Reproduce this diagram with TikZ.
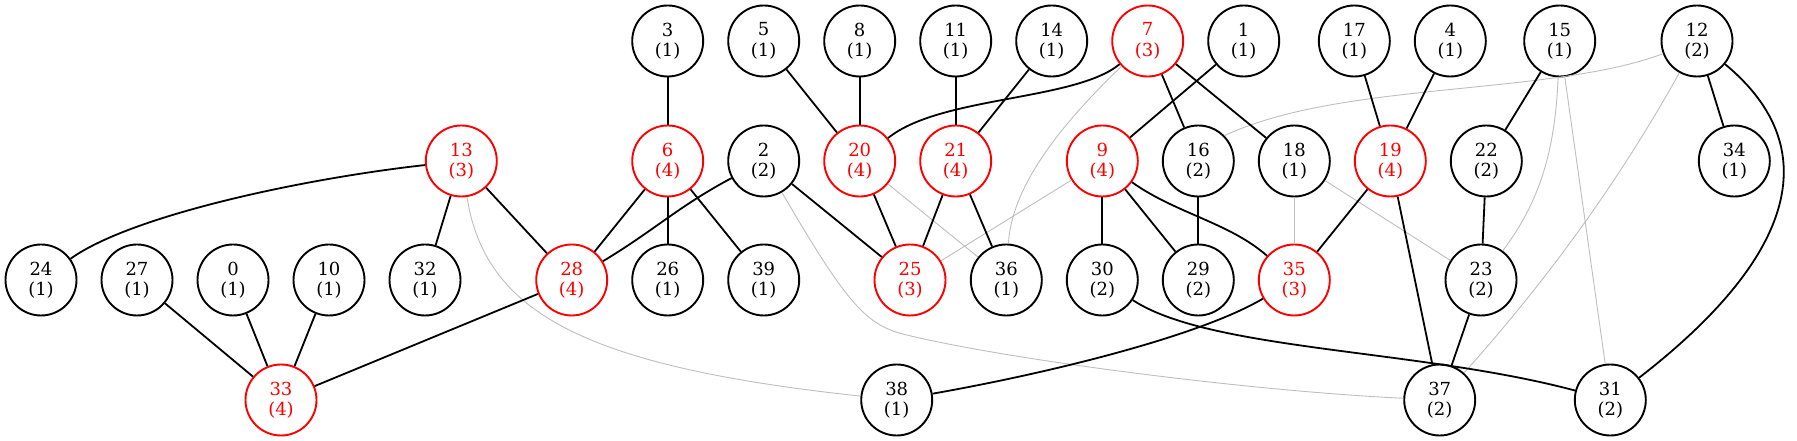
\documentclass[tikz,border=0pt]{standalone}
\usepackage{fontspec}
\setmainfont{DejaVu Serif}
\definecolor{edgegray}{HTML}{BEBEBE}
\begin{document}
\begin{tikzpicture}[x=1pt, y=1pt]
        \useasboundingbox (0,0) rectangle (1797,441);
        \tikzstyle{every node}=[circle, draw, line width=1.9pt, minimum size=71pt, inner sep=0pt,
                                align=center, font=\fontsize{18}{20.5}\selectfont]
        \tikzstyle{hot}=[draw=red, text=red]
        \tikzstyle{link}=[line width=1.8pt]
        \tikzstyle{faint}=[line width=0.9pt, draw=edgegray]
        % top row
        \node        (v3)  at ( 667.7, 400) {3\\(1)};
        \node        (v5)  at ( 763.7, 400) {5\\(1)};
        \node        (v8)  at ( 859.7, 400) {8\\(1)};
        \node        (v11) at ( 955.7, 400) {11\\(1)};
        \node        (v14) at (1051.7, 400) {14\\(1)};
        \node[hot]   (v7)  at (1147.7, 400) {7\\(3)};
        \node        (v1)  at (1243.7, 400) {1\\(1)};
        \node        (v17) at (1354.3, 400) {17\\(1)};
        \node        (v4)  at (1450.3, 400) {4\\(1)};
        \node        (v15) at (1559.7, 400) {15\\(1)};
        \node        (v12) at (1697.0, 400) {12\\(2)};
        % second row
        \node[hot]   (v13) at ( 461.3, 280) {13\\(3)};
        \node[hot]   (v6)  at ( 667.7, 280) {6\\(4)};
        \node        (v2)  at ( 763.7, 280) {2\\(2)};
        \node[hot]   (v20) at ( 859.7, 280) {20\\(4)};
        \node[hot]   (v21) at ( 955.7, 280) {21\\(4)};
        \node[hot]   (v9)  at (1102.3, 280) {9\\(4)};
        \node        (v16) at (1198.3, 280) {16\\(2)};
        \node        (v18) at (1294.3, 280) {18\\(1)};
        \node[hot]   (v19) at (1390.3, 280) {19\\(4)};
        \node        (v22) at (1486.3, 280) {22\\(2)};
        \node        (v34) at (1734.3, 280) {34\\(1)};
        % third row
        \node        (v24) at (  41.0, 161) {24\\(1)};
        \node        (v27) at ( 137.0, 161) {27\\(1)};
        \node        (v0)  at ( 233.0, 161) {0\\(1)};
        \node        (v10) at ( 329.0, 161) {10\\(1)};
        \node        (v32) at ( 425.0, 161) {32\\(1)};
        \node[hot]   (v28) at ( 571.7, 161) {28\\(4)};
        \node        (v26) at ( 667.7, 161) {26\\(1)};
        \node        (v39) at ( 763.7, 161) {39\\(1)};
        \node[hot]   (v25) at ( 910.0, 161) {25\\(3)};
        \node        (v36) at (1006.3, 161) {36\\(1)};
        \node        (v30) at (1102.3, 161) {30\\(2)};
        \node        (v29) at (1198.3, 161) {29\\(2)};
        \node[hot]   (v35) at (1294.3, 161) {35\\(3)};
        \node        (v23) at (1481.0, 161) {23\\(2)};
        % bottom row
        \node[hot]   (v33) at ( 281.0,  41) {33\\(4)};
        \node        (v38) at ( 896.7,  41) {38\\(1)};
        \node        (v37) at (1439.7,  41) {37\\(2)};
        \node        (v31) at (1610.3,  41) {31\\(2)};
        \tikzstyle{every node}=[]
        % light edges
        \draw[faint] (v13) .. controls (485,130) and (580,75) .. (v38);
        \draw[faint] (v2) .. controls (845,140) and (865,118) .. (900,107.7)
                          .. controls (1000,82) and (1250,50) .. (v37);
        \draw[faint] (v7) .. controls (1070,325) and (1012,260) .. (v36);
        \draw[faint] (v12) .. controls (1550,345) and (1340,360) .. (v16.44);
        \draw[faint] (v15) .. controls (1555,290) and (1540,240) .. (v23);
        \draw[faint] (v12) .. controls (1622,265) and (1551,165) .. (v37);
        \draw[faint] (v20) -- (v36);
        \draw[faint] (v9) -- (v25);
        \draw[faint] (v18) -- (v35);
        \draw[faint] (v18) -- (v23);
        \draw[faint] (v15) -- (v31);
        % solid edges
        \draw[link] (v13) .. controls (300,262) and (130,225) .. (v24);
        \draw[link] (v13) -- (v32);
        \draw[link] (v13) -- (v28);
        \draw[link] (v27) -- (v33);
        \draw[link] (v0) -- (v33);
        \draw[link] (v10) -- (v33);
        \draw[link] (v28) -- (v33);
        \draw[link] (v6) -- (v28);
        \draw[link] (v2) to[out=208, in=31] (v28);
        \draw[link] (v3) -- (v6);
        \draw[link] (v6) -- (v26);
        \draw[link] (v6) -- (v39);
        \draw[link] (v2) -- (v25);
        \draw[link] (v5) -- (v20);
        \draw[link] (v8) -- (v20);
        \draw[link] (v20) -- (v25);
        \draw[link] (v7) .. controls (1075,340) and (940,345) .. (v20);
        \draw[link] (v11) -- (v21);
        \draw[link] (v14) -- (v21);
        \draw[link] (v21) -- (v25);
        \draw[link] (v21) -- (v36);
        \draw[link] (v7) -- (v16);
        \draw[link] (v7) -- (v18);
        \draw[link] (v1) -- (v9);
        \draw[link] (v9) -- (v30);
        \draw[link] (v9) -- (v29);
        \draw[link] (v9) .. controls (1175,228) and (1230,218) .. (v35);
        \draw[link] (v16) -- (v29);
        \draw[link] (v30) .. controls (1210,90) and (1420,92) .. (v31);
        \draw[link] (v35) .. controls (1200,105) and (1050,68) .. (v38);
        \draw[link] (v17) -- (v19);
        \draw[link] (v4) -- (v19);
        \draw[link] (v19) -- (v35);
        \draw[link] (v19) -- (v37);
        \draw[link] (v15) -- (v22);
        \draw[link] (v22) -- (v23);
        \draw[link] (v23) -- (v37);
        \draw[link] (v12) -- (v34);
        \draw[link] (v12) .. controls (1830,290) and (1790,180) .. (v31);
    \end{tikzpicture}
\end{document}
